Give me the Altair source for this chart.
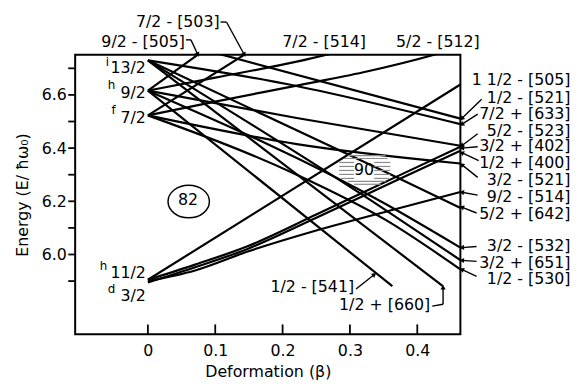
import math
import altair as alt
import pandas as pd

FONT = "DejaVu Sans"

# ---------------- Nilsson levels: deformation beta vs energy (E / hbar omega0) -------------
level_names = [
    "9/2-[505]", "7/2-[503]", "7/2-[514]", "5/2-[512]", "1/2-[521]", "7/2+[633]",
    "11/2-[505]", "5/2-[523]", "3/2+[402]", "1/2+[400]", "3/2-[521]", "9/2-[514]",
    "5/2+[642]", "3/2-[532]", "3/2+[651]", "1/2-[530]", "1/2-[541]", "1/2+[660]",
]
level_beta = [
    [0, 0.08],
    [0, 0.15],
    [0, 0.10, 0.221, 0.28],
    [0, 0.10, 0.221, 0.32, 0.425, 0.44],
    [0.10, 0.464],
    [0, 0.206, 0.464],
    [0, 0.464],
    [0, 0.221, 0.464],
    [0, 0.07, 0.147, 0.25, 0.367, 0.464],
    [0, 0.07, 0.147, 0.25, 0.367, 0.464],
    [0, 0.221, 0.464],
    [0, 0.07, 0.147, 0.25, 0.367, 0.464],
    [0, 0.353, 0.464],
    [0, 0.353, 0.464],
    [0, 0.353, 0.464],
    [0, 0.221, 0.353, 0.464],
    [0, 0.363],
    [0, 0.438],
]
level_energy = [
    [6.616, 6.762],
    [6.523, 6.762],
    [6.616, 6.665, 6.725, 6.76],
    [6.523, 6.575, 6.635, 6.685, 6.751, 6.762],
    [6.758, 6.511],
    [6.73, 6.641, 6.49],
    [5.905, 6.639],
    [6.616, 6.513, 6.409],
    [5.905, 5.962, 6.03, 6.15, 6.29, 6.405],
    [5.895, 5.952, 6.02, 6.138, 6.276, 6.39],
    [6.523, 6.415, 6.342],
    [5.90, 5.94, 6.01, 6.09, 6.17, 6.235],
    [6.73, 6.31, 6.175],
    [6.616, 6.19, 6.026],
    [6.73, 6.167, 5.979],
    [6.523, 6.30, 6.13, 5.944],
    [6.616, 5.881],
    [6.73, 5.881],
]

# axis ticks
x_ticks = [0, 0.1, 0.2, 0.3, 0.4]
y_major = [6.0, 6.2, 6.4, 6.6]
y_minor = [5.9, 6.1, 6.3, 6.5, 6.7]

# right-hand level labels (right aligned)
right_text = ["1 1/2 - [505]", "1/2 - [521]", "7/2 + [633]", "5/2 - [523]", "3/2 + [402]",
              "1/2 + [400]", "3/2 - [521]", "9/2 - [514]", "5/2 + [642]", "3/2 - [532]",
              "3/2 + [651]", "1/2 - [530]"]
right_E = [6.657, 6.589, 6.527, 6.465, 6.407, 6.345, 6.279, 6.217, 6.152, 6.031, 5.969, 5.907]
right_beta = 0.6275

# top / bottom labels (right aligned)
tb_text = ["9/2 - [505]", "7/2 - [503]", "7/2 - [514]", "5/2 - [512]", "1/2 - [541]", "1/2 + [660]"]
tb_beta = [0.0551, 0.1065, 0.3238, 0.4927, 0.3062, 0.4192]
tb_E = [6.800, 6.874, 6.800, 6.800, 5.877, 5.808]

# spherical states at beta = 0
sph_text = ["13/2", "9/2", "7/2", "11/2", "3/2"]
sph_E = [6.700, 6.607, 6.514, 5.929, 5.843]
sph_letter = ["i", "h", "f", "h", "d"]
sph_letter_beta = [-0.060, -0.054, -0.051, -0.066, -0.054]
sph_letter_E = [6.722, 6.636, 6.543, 5.955, 5.870]

# magic numbers
magic_text = ["82", "90"]
magic_beta = [0.0595, 0.3209]
magic_E = [6.204, 6.316]

# leader lines from labels to levels
lead_b1 = [0.4956, 0.4897, 0.4897, 0.4897, 0.4912, 0.4897, 0.4897, 0.488, 0.488, 0.488, 0.488,
           0.3091, 0.4222, 0.4383, 0.0565, 0.0639, 0.1079, 0.1167]
lead_E1 = [6.584, 6.528, 6.454, 6.405, 6.353, 6.290, 6.223, 6.156, 6.030, 5.974, 5.918,
           5.870, 5.806, 5.813, 6.807, 6.807, 6.874, 6.874]
lead_b2 = [0.466, 0.466, 0.466, 0.466, 0.466, 0.466, 0.466, 0.466, 0.466, 0.466, 0.466,
           0.3363, 0.4383, 0.4383, 0.0639, 0.0742, 0.1167, 0.1432]
lead_E2 = [6.511, 6.489, 6.409, 6.400, 6.383, 6.338, 6.234, 6.178, 6.026, 5.978, 5.944,
           5.925, 5.813, 5.877, 6.807, 6.751, 6.874, 6.751]
lead_head = [1, 1, 1, 1, 1, 1, 1, 1, 1, 1, 1, 1, 0, 1, 0, 1, 0, 1]

# shading of the N=90 gap
hatch_E = [6.372, 6.361, 6.346, 6.346, 6.331, 6.331, 6.316, 6.316, 6.301, 6.301, 6.286, 6.286, 6.275, 6.264]
hatch_b1 = [0.297, 0.291, 0.284, 0.336, 0.284, 0.336, 0.284, 0.336, 0.284, 0.336, 0.287, 0.336, 0.297, 0.306]
hatch_b2 = [0.353, 0.356, 0.306, 0.360, 0.306, 0.360, 0.306, 0.360, 0.306, 0.360, 0.306, 0.358, 0.353, 0.346]

# ---------------- tables ----------------
rows = []
for name, bs, es in zip(level_names, level_beta, level_energy):
    for i, (b, e) in enumerate(zip(bs, es)):
        rows.append({"level": name, "beta": b, "E": e, "ord": i})
levels = pd.DataFrame(rows)

W, H = 390, 283
XD = [-0.108, 0.464]
YD = [5.70, 6.751]
xs = alt.Scale(domain=XD, nice=False, zero=False)
ys = alt.Scale(domain=YD, nice=False, zero=False)

# arrowhead directions (screen space) derived from the leader segments
kx = W / (XD[1] - XD[0])
ky = H / (YD[1] - YD[0])
heads = []
for b1, e1, b2, e2, h in zip(lead_b1, lead_E1, lead_b2, lead_E2, lead_head):
    if h:
        dx = (b2 - b1) * kx
        dy = -(e2 - e1) * ky
        ang = math.degrees(math.atan2(dx, -dy)) % 360
        heads.append({"beta": b2, "E": e2, "ang": ang})
heads = pd.DataFrame(heads)

xaxis = alt.Axis(values=x_ticks, labelExpr="datum.value == 0 ? '0' : format(datum.value, '.1f')",
                 ticks=False, domain=False, grid=False, labelFont=FONT, labelFontSize=16,
                 labelColor="black", labelPadding=8, title="Deformation (β)", titleFont=FONT,
                 titleFontSize=16, titleFontWeight="normal", titleColor="black", titlePadding=6)
yaxis = alt.Axis(values=y_major, format=".1f", ticks=False, domain=False, grid=False,
                 labelFont=FONT, labelFontSize=16, labelColor="black", labelPadding=9,
                 title="Energy (E/ ħω₀)", titleFont=FONT, titleFontSize=16,
                 titleFontWeight="normal", titleColor="black", titlePadding=11)

X = alt.X("beta:Q", scale=xs, axis=xaxis)
Y = alt.Y("E:Q", scale=ys, axis=yaxis)

lines = alt.Chart(levels).mark_line(color="black", strokeWidth=2.2, clip=True,
                                    interpolate="monotone").encode(
    x=X, y=Y, detail="level:N", order="ord:Q")

xt = alt.Chart(pd.DataFrame({"beta": x_ticks})).mark_rule(color="black", strokeWidth=1.8).encode(
    x=X, y=alt.value(H), y2=alt.value(H - 10))
ytM = alt.Chart(pd.DataFrame({"E": y_major})).mark_rule(color="black", strokeWidth=1.8).encode(
    y=Y, x=alt.value(-7), x2=alt.value(0))
ytm = alt.Chart(pd.DataFrame({"E": y_minor})).mark_rule(color="black", strokeWidth=1.8).encode(
    y=Y, x=alt.value(-7), x2=alt.value(0))

hatch = alt.Chart(pd.DataFrame({"E": hatch_E, "beta": hatch_b1, "beta2": hatch_b2})).mark_rule(
    color="#8a8a8a", strokeWidth=1.2).encode(x=X, x2="beta2:Q", y=Y)

leaders = alt.Chart(pd.DataFrame({"beta": lead_b1, "E": lead_E1, "beta2": lead_b2, "E2": lead_E2})
                    ).mark_rule(color="black", strokeWidth=1.4).encode(
    x=X, y=Y, x2="beta2:Q", y2="E2:Q")
arrow = alt.Chart(heads).mark_point(shape="triangle-up", filled=True, size=28, color="black",
                                   opacity=1).encode(x=X, y=Y, angle=alt.Angle("ang:Q", scale=None))

rlab = alt.Chart(pd.DataFrame({"t": right_text, "E": right_E, "beta": [right_beta] * len(right_E)})
                 ).mark_text(align="right", baseline="middle", font=FONT, fontSize=16,
                             color="black").encode(x=X, y=Y, text="t:N")
tblab = alt.Chart(pd.DataFrame({"t": tb_text, "E": tb_E, "beta": tb_beta})).mark_text(
    align="right", baseline="middle", font=FONT, fontSize=16, color="black").encode(
    x=X, y=Y, text="t:N")
sph = alt.Chart(pd.DataFrame({"t": sph_text, "E": sph_E, "beta": [-0.003] * len(sph_E)})).mark_text(
    align="right", baseline="middle", font=FONT, fontSize=16, color="black").encode(
    x=X, y=Y, text="t:N")
sphl = alt.Chart(pd.DataFrame({"t": sph_letter, "E": sph_letter_E, "beta": sph_letter_beta})).mark_text(
    align="center", baseline="middle", font=FONT, fontSize=12, color="black").encode(
    x=X, y=Y, text="t:N")
magic = alt.Chart(pd.DataFrame({"t": magic_text, "E": magic_E, "beta": magic_beta})).mark_text(
    align="center", baseline="middle", font=FONT, fontSize=16, color="black").encode(
    x=X, y=Y, text="t:N")
ring = alt.Chart(pd.DataFrame({"E": [6.199], "beta": [0.0606]})).mark_point(
    shape="M -1.27 0 A 1.27 1 0 1 1 1.27 0 A 1.27 1 0 1 1 -1.27 0 Z", size=1089,
    filled=False, color="black", strokeWidth=1.5, opacity=1).encode(x=X, y=Y)

chart = alt.layer(lines, hatch, leaders, arrow, xt, ytM, ytm, ring, magic, rlab, tblab, sph, sphl
                  ).properties(
    width=W, height=H,
    autosize=alt.AutoSizeParams(type="none"),
    padding={"left": 68, "top": 45, "right": 113, "bottom": 48},
).configure_view(stroke="black", strokeWidth=2)

chart.save("out.html", embed_options={"renderer": "svg", "actions": False})
